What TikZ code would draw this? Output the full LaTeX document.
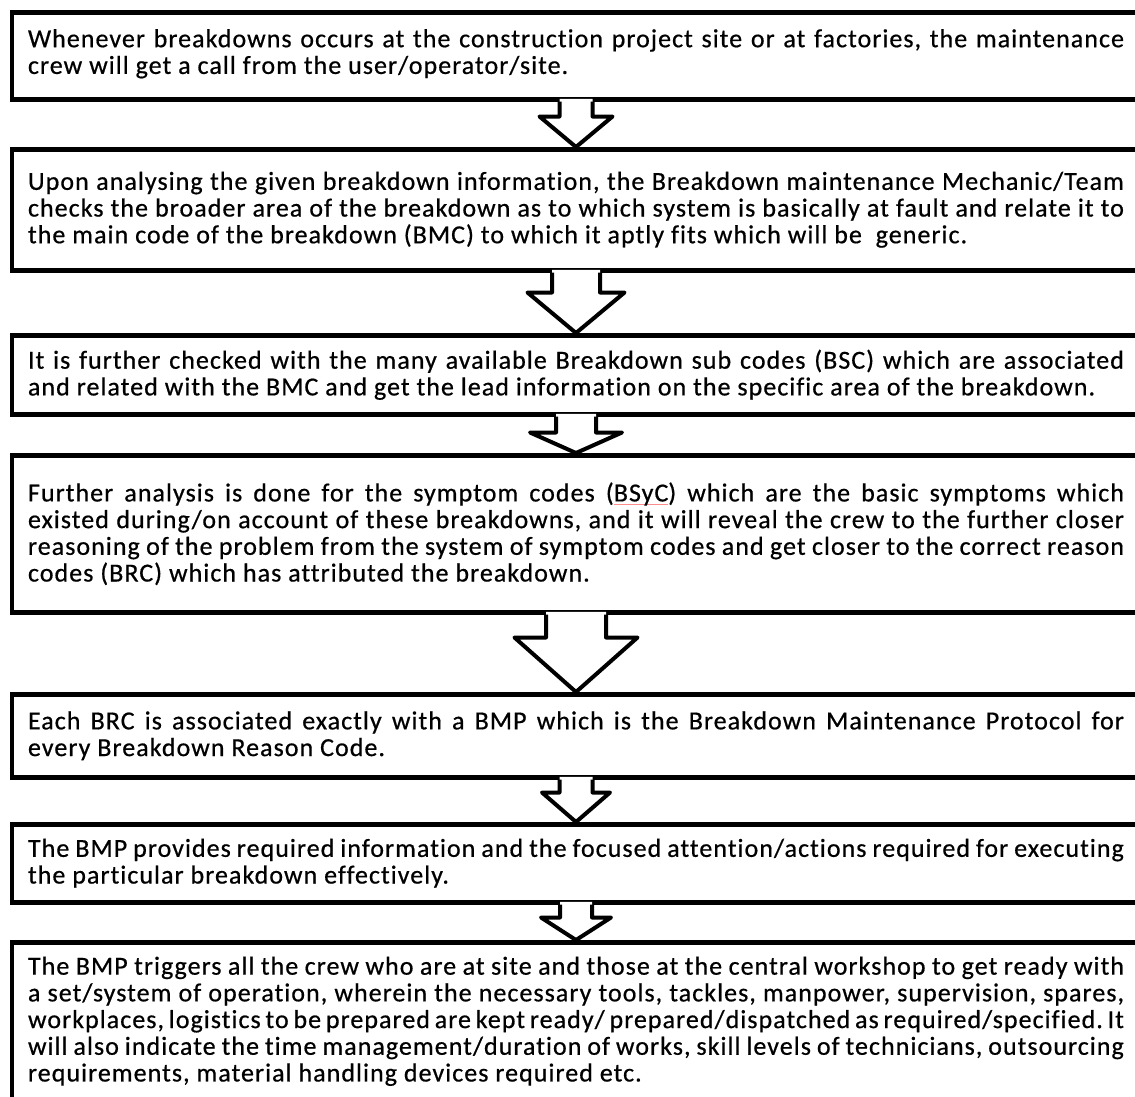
\documentclass[tikz,border=0pt]{standalone}
\usepackage{fontspec}
\setmainfont{Carlito}[LetterSpace=4, FakeBold=0.6, RawFeature={-liga;-clig;-calt;-dlig}]
\usetikzlibrary{calc}
\frenchspacing
\newlength\bw \setlength\bw{1096pt}
\newcommand\jl[1]{\hbox to\bw{#1}}
\newcommand\lastl[1]{\hbox{#1}}
\newcommand\spellul[1]{\setbox0=\hbox{#1}\rlap{\color{red!45}\rule[-3.5pt]{\wd0}{0.8pt}}\box0}
\newcommand\txt[1]{\vbox{\frenchspacing\baselineskip=26.7pt #1}}
\tikzset{
  stepbox/.style={rectangle, draw=black, line width=4.5pt, minimum width=1128pt,
    inner sep=0pt, anchor=north, font=\fontsize{26}{26.7}\selectfont},
  barrowline/.style={draw=black, line width=4pt, line join=round},
}
% #1 from node, #2 to node, #3 shaft half width, #4 head half width, #5 shaft length
\newcommand\blockarrow[5]{%
  \fill[white] let \p1=(#1.south), \p2=(#2.north) in
    (\x1-#3pt,\y1+2.6pt) -- (\x1-#3pt,\y1-#5pt) -- (\x1-#4pt,\y1-#5pt) -- (\x1,\y2)
    -- (\x1+#4pt,\y1-#5pt) -- (\x1+#3pt,\y1-#5pt) -- (\x1+#3pt,\y1+2.6pt) -- cycle;
  \draw[barrowline] let \p1=(#1.south), \p2=(#2.north) in
    (\x1-#3pt,\y1) -- (\x1-#3pt,\y1-#5pt) -- (\x1-#4pt,\y1-#5pt) -- (\x1,\y2)
    -- (\x1+#4pt,\y1-#5pt) -- (\x1+#3pt,\y1-#5pt) -- (\x1+#3pt,\y1);
}
\begin{document}
\begin{tikzpicture}[x=1pt,y=-1pt]
\useasboundingbox[fill=white] (0,0) rectangle (1135,1096);

\node[stepbox, minimum height=87pt] (b1) at (576,10) {\txt{%
\jl{Whenever breakdowns occurs at the construction project site or at factories, the maintenance}
\lastl{crew will get a call from the user/operator/site.}\vskip4pt}};

\node[stepbox, minimum height=121pt] (b2) at (576,147) {\txt{%
\jl{Upon analysing the given breakdown information, the Breakdown maintenance Mechanic/Team}
\jl{checks the broader area of the breakdown as to which system is basically at fault and relate it to}
\lastl{the main code of the breakdown (BMC) to which it aptly fits which will be\ \ generic.}}};

\node[stepbox, minimum height=79pt] (b3) at (576,333) {\txt{%
\jl{It is further checked with the many available Breakdown sub codes (BSC) which are associated}
\lastl{and related with the BMC and get the lead information on the specific area of the breakdown.}}};

\node[stepbox, minimum height=157pt] (b4) at (576,453) {\txt{%
\jl{Further analysis is done for the symptom codes (\spellul{BSyC}) which are the basic symptoms which}
\jl{existed during/on account of these breakdowns, and it will reveal the crew to the further closer}
\jl{reasoning of the problem from the system of symptom codes and get closer to the correct reason}
\lastl{codes (BRC) which has attributed the breakdown.}}};

\node[stepbox, minimum height=83pt] (b5) at (576,692) {\txt{%
\jl{Each BRC is associated exactly with a BMP which is the Breakdown Maintenance Protocol for}
\lastl{every Breakdown Reason Code.}}};

\node[stepbox, minimum height=78pt] (b6) at (576,822) {\txt{%
\jl{The BMP provides required information and the focused attention/actions required for executing}
\lastl{the particular breakdown effectively.}}};

\node[stepbox, minimum height=158pt] (b7) at (576,940) {\txt{%
\jl{The BMP triggers all the crew who are at site and those at the central workshop to get ready with}
\jl{a set/system of operation, wherein the necessary tools, tackles, manpower, supervision, spares,}
\jl{workplaces, logistics to be prepared are kept ready/ prepared/dispatched as required/specified. It}
\jl{will also indicate the time management/duration of works, skill levels of technicians, outsourcing}
\lastl{requirements, material handling devices required etc.}}};

\blockarrow{b1}{b2}{16.5}{36.5}{15}
\blockarrow{b2}{b3}{24}{48.5}{20}
\blockarrow{b3}{b4}{20}{46}{16}
\blockarrow{b4}{b5}{30}{61.5}{23}
\blockarrow{b5}{b6}{16.5}{34}{13}
\blockarrow{b6}{b7}{16}{35}{13}
\end{tikzpicture}
\end{document}
